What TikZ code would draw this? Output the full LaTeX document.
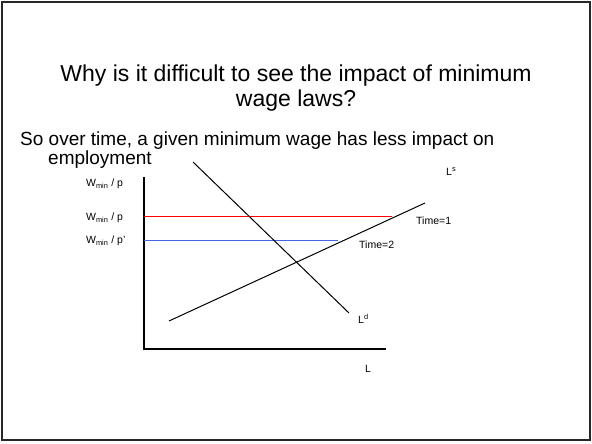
\documentclass[tikz,border=0pt]{standalone}
\usepackage{fontspec}
\setmainfont{Liberation Sans}
\definecolor{wblue}{rgb}{0.25,0.4,0.9}
\begin{document}
\begin{tikzpicture}[x=1pt,y=-1pt,
  lbl/.style={inner sep=0pt,font=\fontsize{10.5}{12}\selectfont},
  ttl/.style={inner sep=0pt,font=\fontsize{23}{27}\selectfont},
  bdy/.style={inner sep=0pt,font=\fontsize{19}{22}\selectfont,anchor=west},
  axisline/.style={line width=1.4pt},
  curve/.style={line width=1pt}]
\useasboundingbox (0,0) rectangle (592,444);
\draw[line width=2pt,black!85] (2,2) rectangle (590,440);
% texts
\node[ttl] (t1) at (296,76) {Why is it difficult to see the impact of minimum};
\node[ttl] (t2) at (296,101) {wage laws?};
\node[bdy] (b1) at (20,141) {So over time, a given minimum wage has less impact on};
\node[bdy] (b2) at (48,160) {employment};
% axes
\coordinate (top) at (144,177);
\coordinate (orig) at (144,349);
\coordinate (xend) at (386,349);
\draw[axisline] (top) -- (orig) -- (xend);
% wage lines
\coordinate (r0) at (144,216.5);
\coordinate (r1) at (392,216.5);
\coordinate (bl0) at (144,240.5);
\coordinate (bl1) at (338,240.5);
\draw[red,curve] (r0) -- (r1);
\draw[wblue,curve] (bl0) -- (bl1);
% supply and demand
\coordinate (s0) at (169,321);
\coordinate (s1) at (425,203);
\coordinate (d0) at (193,162);
\coordinate (d1) at (349,313);
\draw[curve] (s0) -- (s1);
\draw[curve] (d0) -- (d1);
% labels
\node[lbl,anchor=west] (w1) at (86,184) {W\textsubscript{min} / p};
\node[lbl,anchor=west] (w2) at (86,218) {W\textsubscript{min} / p};
\node[lbl,anchor=west] (w3) at (86,241) {W\textsubscript{min} / p'};
\node[lbl,anchor=west] (ls) at (446,172) {L\textsuperscript{s}};
\node[lbl,anchor=west] (tm1) at (416,221) {Time=1};
\node[lbl,anchor=west] (tm2) at (359,245) {Time=2};
\node[lbl,anchor=west] (ld) at (358,319) {L\textsuperscript{d}};
\node[lbl,anchor=west] (lx) at (365,369) {L};
\end{tikzpicture}
\end{document}
